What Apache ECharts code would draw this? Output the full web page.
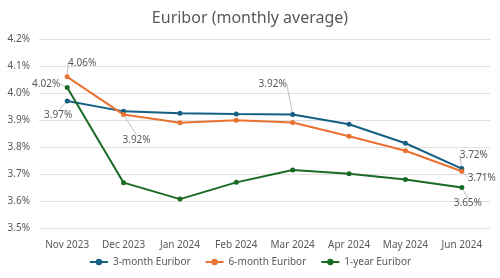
<!DOCTYPE html>
<html lang="en">
<head>
    <meta charset="UTF-8">
    <title>Euribor</title>
    <script src="https://cdn.jsdelivr.net/npm/echarts@6/dist/echarts.min.js"></script>
    <style>
        body { margin: 0; background: #fff; }
    </style>
</head>
<body>
    <div id="main" style="width: 500px;height:278px;"></div>
    <script type="text/javascript">
        // chart data
        const months = ['Nov 2023', 'Dec 2023', 'Jan 2024', 'Feb 2024', 'Mar 2024', 'Apr 2024', 'May 2024', 'Jun 2024'];
        const euribor3m = [3.97, 3.932, 3.925, 3.922, 3.92, 3.884, 3.814, 3.72];
        const euribor6m = [4.06, 3.92, 3.89, 3.899, 3.891, 3.84, 3.786, 3.71];
        const euribor1y = [4.02, 3.668, 3.607, 3.669, 3.715, 3.701, 3.68, 3.65];
        const yTicks = [3.5, 3.6, 3.7, 3.8, 3.9, 4.0, 4.1, 4.2];

        // which points carry a label
        const labelled = [[0, 4, 7], [0, 1, 7], [0, 7]];

        // label shifts from the default 'top' spot, per series / point
        const shifts = {
            '0-0': [-9, 27], '0-4': [-20, -18], '0-7': [12, -1],
            '1-0': [15, -1], '1-1': [13, 38], '1-7': [20, 19],
            '2-0': [-21, 9], '2-7': [6, 28]
        };

        const textColor = '#595959';
        const font = 'Noto Sans';

        let myChart = echarts.init(document.getElementById('main'));

        function makeSeries(name, values, color, idx) {
            return {
                name: name,
                type: 'line',
                data: values.map((v, i) => ({
                    value: v,
                    label: { show: labelled[idx].includes(i) }
                })),
                symbol: 'circle',
                symbolSize: 5,
                lineStyle: { width: 2, color: color },
                itemStyle: { color: color },
                label: {
                    position: 'top',
                    color: textColor,
                    fontFamily: font,
                    fontSize: 10,
                    formatter: p => p.value.toFixed(2) + '%'
                },
                labelLine: { show: true, lineStyle: { color: '#bfbfbf', width: 1 } },
                labelLayout: function (params) {
                    const s = shifts[params.seriesIndex + '-' + params.dataIndex] || [0, 0];
                    return { dx: s[0], dy: s[1] };
                }
            };
        }

        let options = {
            title: {
                text: 'Euribor (monthly average)',
                left: 'center',
                top: 5,
                textStyle: { color: textColor, fontFamily: font, fontSize: 16, fontWeight: 'normal' }
            },
            legend: {
                bottom: 6,
                itemWidth: 18,
                itemHeight: 8,
                itemGap: 14,
                textStyle: { color: textColor, fontFamily: font, fontSize: 10 },
                data: ['3-month Euribor', '6-month Euribor', '1-year Euribor']
            },
            grid: { left: 39, right: 10, top: 39, bottom: 50 },
            xAxis: {
                type: 'category',
                data: months,
                boundaryGap: true,
                axisLine: { show: false },
                axisTick: { show: false },
                axisLabel: { color: textColor, fontFamily: font, fontSize: 10, margin: 12, interval: 0 }
            },
            yAxis: {
                type: 'value',
                min: yTicks[0],
                max: yTicks[yTicks.length - 1],
                interval: 0.1,
                axisLabel: {
                    color: textColor, fontFamily: font, fontSize: 10, margin: 9,
                    formatter: v => v.toFixed(1) + '%'
                },
                splitLine: { lineStyle: { color: '#e0e0e0' } }
            },
            series: [
                makeSeries('3-month Euribor', euribor3m, '#156082', 0),
                makeSeries('6-month Euribor', euribor6m, '#E97132', 1),
                makeSeries('1-year Euribor', euribor1y, '#196B24', 2)
            ]
        };

        myChart.setOption(options);
    </script>
</body>
</html>
